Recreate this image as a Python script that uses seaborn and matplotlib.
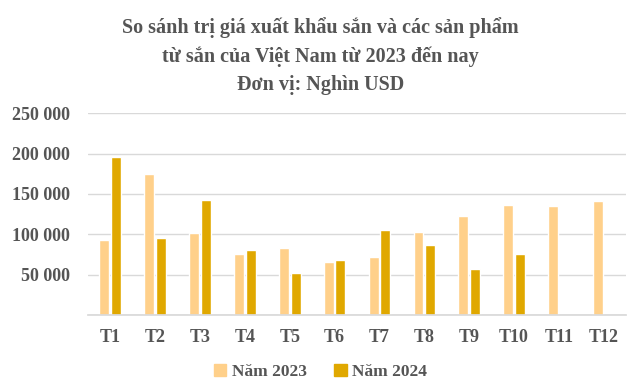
import matplotlib
matplotlib.use('Agg')
import matplotlib.pyplot as plt
import seaborn as sns
import pandas as pd

months = ['T1', 'T2', 'T3', 'T4', 'T5', 'T6', 'T7', 'T8', 'T9', 'T10', 'T11', 'T12']
v2023 = [92800, 174500, 101500, 75500, 82900, 65600, 71800, 102700, 122500, 136100, 134900, 141100]
v2024 = [195200, 95300, 142300, 80400, 52000, 68100, 105200, 86600, 56900, 75500, None, None]
series = ['Năm 2023', 'Năm 2024']
colors = ['#FFD08A', '#E0A800']
title_lines = ['So sánh trị giá xuất khẩu sắn và các sản phẩm',
               'từ sắn của Việt Nam từ 2023 đến nay',
               'Đơn vị: Nghìn USD']

rows = []
for m, a, b in zip(months, v2023, v2024):
    rows.append({'month': m, 'year': series[0], 'value': a})
    if b is not None:
        rows.append({'month': m, 'year': series[1], 'value': b})
df = pd.DataFrame(rows)

sns.set_theme(style='white')
plt.rcParams['font.family'] = ['Liberation Serif', 'DejaVu Serif']
text_color = '#555555'

fig = plt.figure(figsize=(6.41, 3.89), dpi=100)
ax = fig.add_axes([0.137, 0.190, 0.840, 0.519])

sns.barplot(data=df, x='month', y='value', hue='year', order=months,
            hue_order=series, palette=colors, width=0.52, gap=0.15,
            saturation=1, ax=ax)

ax.set_ylim(0, 250000)
ax.set_xlim(-0.5, 11.5)
ax.set_yticks([0, 50000, 100000, 150000, 200000, 250000])
ax.set_yticklabels(['', '50 000', '100 000', '150 000', '200 000', '250 000'])
ax.yaxis.grid(True, color='#d9d9d9', linewidth=1)
ax.set_axisbelow(True)
for s in ['top', 'right', 'left']:
    ax.spines[s].set_visible(False)
ax.spines['bottom'].set_color('#d9d9d9')
ax.tick_params(axis='both', length=0, labelsize=13, colors=text_color)
ax.tick_params(axis='x', pad=10)
ax.tick_params(axis='y', pad=13)
for lbl in ax.get_xticklabels() + ax.get_yticklabels():
    lbl.set_fontweight('bold')
ax.set_xlabel('')
ax.set_ylabel('')

ax.legend_.remove()
handles = [plt.Rectangle((0, 0), 1, 1, color=c) for c in colors]
fig.legend(handles, series, loc='center', bbox_to_anchor=(0.5, 0.044), ncol=2,
           frameon=False, handlelength=0.7, handleheight=0.7, handletextpad=0.3,
           columnspacing=1.6, prop={'weight': 'bold', 'size': 12.5},
           labelcolor=text_color)

# title lines, baselines in pixels from the top
for line, base in zip(title_lines, [33, 62, 90]):
    fig.text(0.5, 1 - base / 389, line, ha='center', va='baseline',
             fontsize=14.5, fontweight='bold', color=text_color)

fig.savefig('out.png', dpi=100)
